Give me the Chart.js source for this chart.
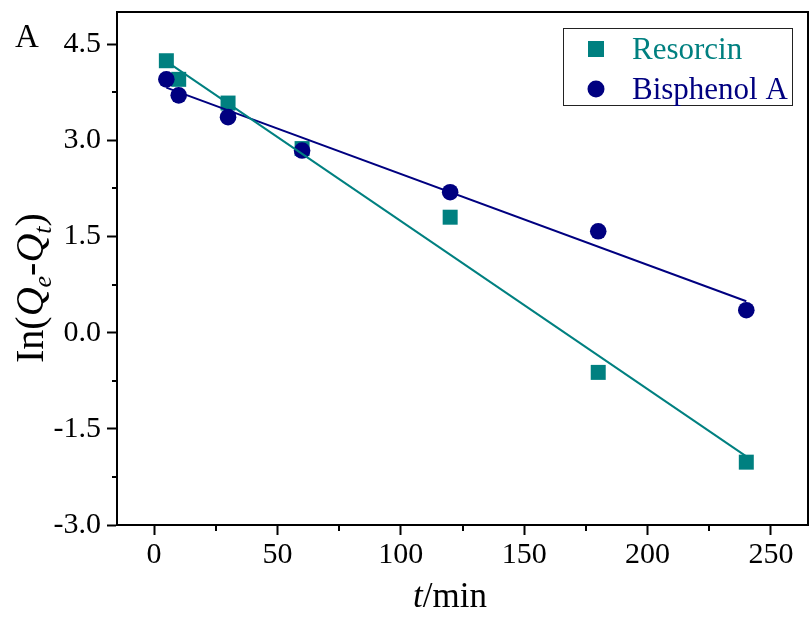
<!DOCTYPE html>
<html>
<head>
<meta charset="utf-8">
<script src="https://cdn.jsdelivr.net/npm/chart.js@4/dist/chart.umd.min.js"></script>
<style>
  body { margin: 0; background: #fff; }
  #wrap { width: 811px; height: 619px; }
</style>
</head>
<body>
<div id="wrap"><canvas id="kinChart" width="811" height="619"></canvas></div>
<script>
// data
const times = [5, 10, 30, 60, 120, 180, 240];
const resorcinVals = [4.24, 3.95, 3.58, 2.87, 1.80, -0.62, -2.02];
const bisphenolVals = [3.95, 3.70, 3.36, 2.84, 2.19, 1.58, 0.35];
// fitted lines (end points)
const fitTimes = [5, 240];
const resorcinFit = [4.23, -1.93];
const bisphenolFit = [3.82, 0.49];
// axis ticks
const xTickStep = 25, xMajor = 50;
const yTickStep = 0.75, yMajor = 1.5;

const TEAL = '#008080';
const NAVY = '#000080';
const SERIF = 'Liberation Serif';

Chart.defaults.font.family = SERIF;

function pts(xs, ys) {
    return xs.map((x, i) => ({ x: x, y: ys[i] }));
}
function isMajor(v, step) {
    const r = Math.abs(v / step - Math.round(v / step));
    return r < 1e-6;
}

// extra drawing: frame, minor ticks, titles, legend, panel letter
const decor = {
    id: 'decor',
    afterDraw(chart) {
        const c = chart.ctx;
        const a = chart.chartArea;
        const xs = chart.scales.x, ys = chart.scales.y;
        c.save();
        c.strokeStyle = '#000';
        c.lineWidth = 2;
        c.strokeRect(a.left, a.top, a.right - a.left, a.bottom - a.top);

        // minor ticks
        c.beginPath();
        xs.ticks.forEach(t => {
            if (!isMajor(t.value, xMajor)) {
                const px = Math.round(xs.getPixelForValue(t.value));
                c.moveTo(px, a.bottom);
                c.lineTo(px, a.bottom + 6);
            }
        });
        ys.ticks.forEach(t => {
            if (!isMajor(t.value, yMajor)) {
                const py = Math.round(ys.getPixelForValue(t.value));
                c.moveTo(a.left, py);
                c.lineTo(a.left - 5, py);
            }
        });
        c.stroke();

        c.fillStyle = '#000';
        c.textBaseline = 'alphabetic';

        // panel letter
        c.font = '33px ' + SERIF;
        c.textAlign = 'left';
        c.fillText('A', 15, 47);

        // x title: t/min
        c.font = 'italic 35px ' + SERIF;
        let w1 = c.measureText('t').width;
        c.font = '35px ' + SERIF;
        let w2 = c.measureText('/min').width;
        let x0 = 450 - (w1 + w2) / 2;
        c.font = 'italic 35px ' + SERIF;
        c.fillText('t', x0, 607);
        c.font = '35px ' + SERIF;
        c.fillText('/min', x0 + w1, 607);

        // y title: In(Qe-Qt)
        c.save();
        c.translate(43, 363);
        c.rotate(-Math.PI / 2);
        const fs = 40, sub = 26;
        const parts = [
            ['In(', fs + 'px ', 0],
            ['Q', 'italic ' + fs + 'px ', 0],
            ['e', 'italic ' + sub + 'px ', 8],
            ['-', fs + 'px ', 0],
            ['Q', 'italic ' + fs + 'px ', 0],
            ['t', 'italic ' + sub + 'px ', 8],
            [')', fs + 'px ', 0]
        ];
        let px = 0;
        parts.forEach(p => {
            c.font = p[1] + SERIF;
            c.fillText(p[0], px, p[2]);
            px += c.measureText(p[0]).width;
        });
        c.restore();

        // legend
        const bx = a.right - 245, by = a.top + 16, bw = 229, bh = 77;
        c.lineWidth = 1;
        c.strokeStyle = '#222';
        c.strokeRect(bx + 0.5, by + 0.5, bw, bh);
        const items = [
            { label: chart.data.datasets[0].label, color: TEAL, shape: 'rect', cy: by + 21 },
            { label: chart.data.datasets[1].label, color: NAVY, shape: 'circle', cy: by + 61 }
        ];
        c.font = '31px ' + SERIF;
        items.forEach(it => {
            c.fillStyle = it.color;
            const mx = bx + 33;
            if (it.shape === 'rect') {
                c.fillRect(mx - 8, it.cy - 8, 16, 16);
            } else {
                c.beginPath();
                c.arc(mx, it.cy, 8.5, 0, Math.PI * 2);
                c.fill();
            }
            c.fillText(it.label, bx + 69, it.cy + 10);
        });
        c.restore();
    }
};

const ctx = document.getElementById('kinChart').getContext('2d');
new Chart(ctx, {
    type: 'scatter',
    data: {
        datasets: [
            {
                label: 'Resorcin',
                data: pts(times, resorcinVals),
                pointStyle: 'rect',
                pointRadius: 10.6,
                backgroundColor: TEAL,
                borderColor: TEAL,
                borderWidth: 0,
                order: 3
            },
            {
                label: 'Bisphenol A',
                data: pts(times, bisphenolVals),
                pointStyle: 'circle',
                pointRadius: 8.3,
                backgroundColor: NAVY,
                borderColor: NAVY,
                borderWidth: 0,
                order: 2
            },
            {
                type: 'line',
                label: 'Resorcin fit',
                data: pts(fitTimes, resorcinFit),
                borderColor: TEAL,
                borderWidth: 2,
                pointRadius: 0,
                fill: false,
                order: 0
            },
            {
                type: 'line',
                label: 'Bisphenol A fit',
                data: pts(fitTimes, bisphenolFit),
                borderColor: NAVY,
                borderWidth: 2,
                pointRadius: 0,
                fill: false,
                order: 1
            }
        ]
    },
    options: {
        responsive: false,
        animation: false,
        layout: { autoPadding: false, padding: { top: 12, right: 3, left: 0, bottom: 0 } },
        plugins: {
            legend: { display: false },
            tooltip: { enabled: false }
        },
        scales: {
            x: {
                type: 'linear',
                min: -15,
                max: 265,
                border: { display: true, color: '#000', width: 2 },
                grid: {
                    drawOnChartArea: false,
                    drawTicks: true,
                    tickLength: 10,
                    tickWidth: 2,
                    tickColor: c => (c.tick && isMajor(c.tick.value, xMajor)) ? '#000' : 'rgba(0,0,0,0)'
                },
                ticks: {
                    stepSize: xTickStep,
                    includeBounds: false,
                    autoSkip: false,
                    maxRotation: 0,
                    padding: 2,
                    color: '#000',
                    font: { family: SERIF, size: 30 },
                    callback: v => isMajor(v, xMajor) ? String(v) : ''
                },
                afterFit: s => {
                    s.height = 94;
                    s.paddingLeft = 0;
                    s.paddingRight = 0;
                }
            },
            y: {
                type: 'linear',
                min: -3,
                max: 5,
                border: { display: true, color: '#000', width: 2 },
                grid: {
                    drawOnChartArea: false,
                    drawTicks: true,
                    tickLength: 10,
                    tickWidth: 2,
                    tickColor: c => (c.tick && isMajor(c.tick.value, yMajor)) ? '#000' : 'rgba(0,0,0,0)'
                },
                ticks: {
                    stepSize: yTickStep,
                    includeBounds: false,
                    autoSkip: false,
                    padding: 6,
                    color: '#000',
                    font: { family: SERIF, size: 30 },
                    callback: v => isMajor(v, yMajor) ? v.toFixed(1) : ''
                },
                afterFit: s => {
                    s.width = 117;
                    s.paddingTop = 0;
                    s.paddingBottom = 0;
                }
            }
        }
    },
    plugins: [decor]
});
</script>
</body>
</html>
